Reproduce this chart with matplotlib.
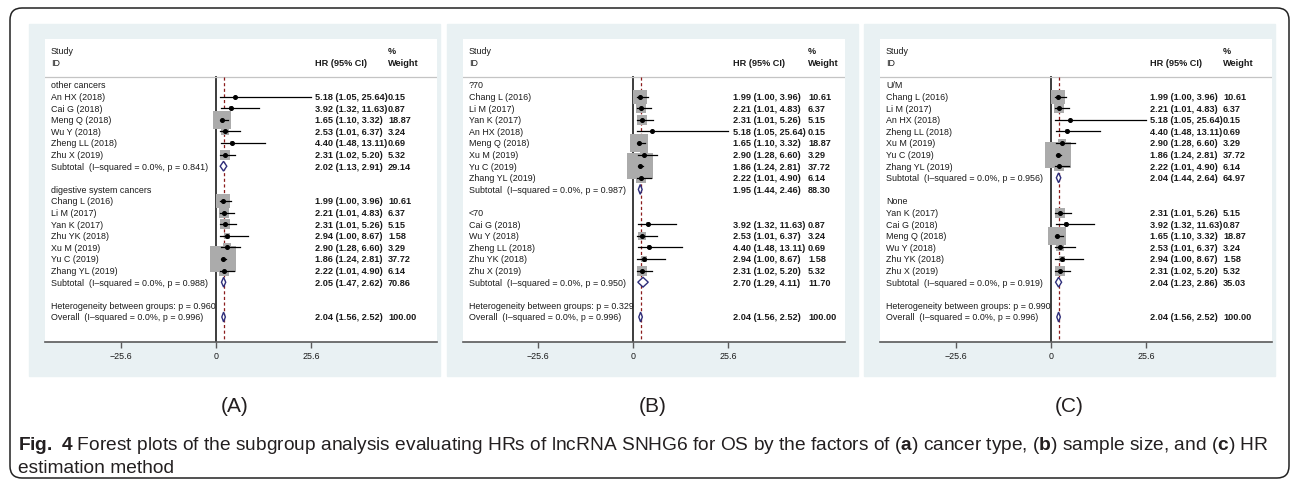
import matplotlib.pyplot as plt
from matplotlib.patches import Rectangle, Polygon, FancyBboxPatch
from matplotlib.transforms import IdentityTransform, blended_transform_factory
from matplotlib import font_manager

# study results (same numbers in every panel)
studies = ['An HX (2018)', 'Cai G (2018)', 'Meng Q (2018)', 'Wu Y (2018)', 'Zheng LL (2018)',
           'Zhu X (2019)', 'Chang L (2016)', 'Li M (2017)', 'Yan K (2017)', 'Zhu YK (2018)',
           'Xu M (2019)', 'Yu C (2019)', 'Zhang YL (2019)']
hr = [5.18, 3.92, 1.65, 2.53, 4.40, 2.31, 1.99, 2.21, 2.31, 2.94, 2.90, 1.86, 2.22]
lo = [1.05, 1.32, 1.10, 1.01, 1.48, 1.02, 1.00, 1.01, 1.01, 1.00, 1.28, 1.24, 1.01]
hi = [25.64, 11.63, 3.32, 6.37, 13.11, 5.20, 3.96, 4.83, 5.26, 8.67, 6.60, 2.81, 4.90]
weight = [0.15, 0.87, 18.87, 3.24, 0.69, 5.32, 10.61, 6.37, 5.15, 1.58, 3.29, 37.72, 6.14]

overall = (2.04, 1.56, 2.52, 100.00, 0.996)

# (A) cancer type
groups_a = ['other cancers', 'digestive system cancers']
members_a = [['An HX (2018)', 'Cai G (2018)', 'Meng Q (2018)', 'Wu Y (2018)', 'Zheng LL (2018)', 'Zhu X (2019)'],
             ['Chang L (2016)', 'Li M (2017)', 'Yan K (2017)', 'Zhu YK (2018)', 'Xu M (2019)',
              'Yu C (2019)', 'Zhang YL (2019)']]
sub_a = [(2.02, 1.13, 2.91, 29.14, 0.841), (2.05, 1.47, 2.62, 70.86, 0.988)]
het_a = 0.960

# (B) sample size
groups_b = ['?70', '<70']
members_b = [['Chang L (2016)', 'Li M (2017)', 'Yan K (2017)', 'An HX (2018)', 'Meng Q (2018)',
              'Xu M (2019)', 'Yu C (2019)', 'Zhang YL (2019)'],
             ['Cai G (2018)', 'Wu Y (2018)', 'Zheng LL (2018)', 'Zhu YK (2018)', 'Zhu X (2019)']]
sub_b = [(1.95, 1.44, 2.46, 88.30, 0.987), (2.70, 1.29, 4.11, 11.70, 0.950)]
het_b = 0.329

# (C) HR estimation method
groups_c = ['U/M', 'None']
members_c = [['Chang L (2016)', 'Li M (2017)', 'An HX (2018)', 'Zheng LL (2018)', 'Xu M (2019)',
              'Yu C (2019)', 'Zhang YL (2019)'],
             ['Yan K (2017)', 'Cai G (2018)', 'Meng Q (2018)', 'Wu Y (2018)', 'Zhu YK (2018)', 'Zhu X (2019)']]
sub_c = [(2.04, 1.44, 2.64, 64.97, 0.956), (2.04, 1.23, 2.86, 35.03, 0.919)]
het_c = 0.990

ticks = [-25.6, 0, 25.6]

W, H = 1292, 481
FS = 6.4      # study labels
FSB = 6.6     # HR / weight columns
BG = '#e9f1f3'
TXT = '#1a1a1a'

names = {f.name for f in font_manager.fontManager.ttflist}
cap_font = 'Liberation Sans Narrow' if 'Liberation Sans Narrow' in names else 'Liberation Sans'
plt.rcParams['font.family'] = ['Liberation Sans', 'DejaVu Sans']
plt.rcParams['mathtext.fontset'] = 'custom'
plt.rcParams['mathtext.rm'] = cap_font
plt.rcParams['mathtext.bf'] = cap_font + ':bold'

fig = plt.figure(figsize=(W / 100, H / 100), dpi=100)


def frac(x0, y0, x1, y1):
    return [x0 / W, 1 - y1 / H, (x1 - x0) / W, (y1 - y0) / H]


def ci_text(e, l, h):
    return '%.2f (%.2f, %.2f)' % (e, l, h)


def draw_panel(bg, white, zero_px, wcol, groups, members, subs, het_p, tag):
    # grey-blue graph region
    fig.patches.append(Rectangle((bg[0] / W, 1 - bg[3] / H), (bg[2] - bg[0]) / W, (bg[3] - bg[1]) / H,
                                 transform=fig.transFigure, color=BG, zorder=-1))
    wl, wt, wr, wb = white
    ax = fig.add_axes(frac(wl, wt, wr, wb))
    ax.set_zorder(1)
    k = 95 / 25.6
    ax.set_xlim(-(zero_px - wl) / k, (wr - zero_px) / k)
    row0, step = 86, 11.6
    ytop = -(row0 - wt) / step
    ybot = 20 + (wb - 318) / step
    ax.set_ylim(ybot, ytop)
    for s in ['top', 'left', 'right']:
        ax.spines[s].set_visible(False)
    ax.spines['bottom'].set_color('#5a5a5a')
    ax.spines['bottom'].set_linewidth(1.2)
    ax.set_yticks([])
    ax.set_xticks(ticks)
    ax.set_xticklabels(['\u221225.6', '0', '25.6'])
    ax.tick_params(axis='x', direction='out', length=4, width=1, color='#5a5a5a',
                   labelsize=FS, labelcolor=TXT, pad=2.5)

    tr = blended_transform_factory(ax.transAxes, ax.transData)
    wpx = wr - wl
    xl, xh, xw = 6 / wpx, 270 / wpx, wcol / wpx

    hline = (78 - row0) / step
    ax.text(xl, (51 - row0) / step, 'Study', transform=tr, fontsize=FS, color=TXT, va='center')
    ax.text(xl, (63 - row0) / step, 'ID', transform=tr, fontsize=FS, color=TXT, va='center')
    ax.text(xh, (63 - row0) / step, 'HR (95% CI)', transform=tr, fontsize=FSB, color=TXT, va='center',
            fontweight='bold')
    ax.text(xw, (51 - row0) / step, '%', transform=tr, fontsize=FSB, color=TXT, va='center', fontweight='bold')
    ax.text(xw, (63 - row0) / step, 'Weight', transform=tr, fontsize=FSB, color=TXT, va='center',
            fontweight='bold')
    ax.axhline(hline, color='#c4c4c4', lw=0.9)

    ax.plot([0, 0], [hline, ybot], color='#3c3c3c', lw=1.4, zorder=1)
    ax.plot([overall[0]] * 2, [hline, ybot], color='#8b1c1c', lw=0.9, ls=(0, (2.5, 2)), zorder=2)

    def diamond(r, est):
        e, l, h, w, p = est
        ax.add_patch(Polygon([(l, r), (e, r - 0.42), (h, r), (e, r + 0.42)], closed=True,
                             facecolor='white', edgecolor='#2e2e7a', lw=1, zorder=5))
        ax.text(xh, r, ci_text(e, l, h), transform=tr, fontsize=FSB, color=TXT, va='center', fontweight='bold')
        ax.text(xw, r, '%.2f' % w, transform=tr, fontsize=FSB, color=TXT, va='center', fontweight='bold')

    row = 0
    for g, mem, sub in zip(groups, members, subs):
        ax.text(xl, row, g, transform=tr, fontsize=FS, color=TXT, va='center')
        row += 1
        for name in mem:
            i = studies.index(name)
            ax.scatter([hr[i]], [row], marker='s', s=9.3 * weight[i], color='#ababab', lw=0, zorder=3)
            ax.plot([lo[i], hi[i]], [row, row], color='black', lw=0.9, zorder=4)
            ax.plot([hr[i]], [row], 'o', color='black', ms=2.6, zorder=4)
            ax.text(xl, row, name, transform=tr, fontsize=FS, color=TXT, va='center')
            ax.text(xh, row, ci_text(hr[i], lo[i], hi[i]), transform=tr, fontsize=FSB, color=TXT,
                    va='center', fontweight='bold')
            ax.text(xw, row, '%.2f' % weight[i], transform=tr, fontsize=FSB, color=TXT, va='center',
                    fontweight='bold')
            row += 1
        ax.text(xl, row, 'Subtotal  (I\u2013squared = 0.0%%, p = %.3f)' % sub[4], transform=tr,
                fontsize=FS, color=TXT, va='center')
        diamond(row, sub)
        row += 2
    ax.text(xl, row, 'Heterogeneity between groups: p = %.3f' % het_p, transform=tr,
            fontsize=FS, color=TXT, va='center')
    row += 1
    ax.text(xl, row, 'Overall  (I\u2013squared = 0.0%%, p = %.3f)' % overall[4], transform=tr,
            fontsize=FS, color=TXT, va='center')
    diamond(row, overall)

    fig.text((bg[0] + bg[2]) / 2 / W, 1 - 407 / H, tag, ha='center', va='center', fontsize=15,
             family=cap_font, color='#231f20')


draw_panel((29, 25, 440, 377), (45, 40, 437, 343), 216, 343, groups_a, members_a, sub_a, het_a, '(A)')
draw_panel((447, 25, 858, 377), (463, 40, 845, 343), 633, 345, groups_b, members_b, sub_b, het_b, '(B)')
draw_panel((864, 25, 1275, 377), (880, 40, 1272, 343), 1051, 343, groups_c, members_c, sub_c, het_c, '(C)')

# outer frame with rounded corners
fig.patches.append(FancyBboxPatch((10, 2), 1279, 470, boxstyle='round,pad=0,rounding_size=12',
                                  transform=IdentityTransform(), facecolor='none', edgecolor='#222222',
                                  lw=1.1, zorder=10))

caption1 = (r'$\mathbf{Fig.}$ $\mathbf{4}$ Forest plots of the subgroup analysis evaluating HRs of lncRNA SNHG6 '
            r'for OS by the factors of ($\mathbf{a}$) cancer type, ($\mathbf{b}$) sample size, and '
            r'($\mathbf{c}$) HR')
fig.text(18 / W, 1 - 446 / H, caption1, fontsize=13.8, family=cap_font, color='#231f20', va='center')
fig.text(18 / W, 1 - 469 / H, 'estimation method', fontsize=13.8, family=cap_font, color='#231f20',
         va='center')

fig.savefig('out.png', dpi=100)
